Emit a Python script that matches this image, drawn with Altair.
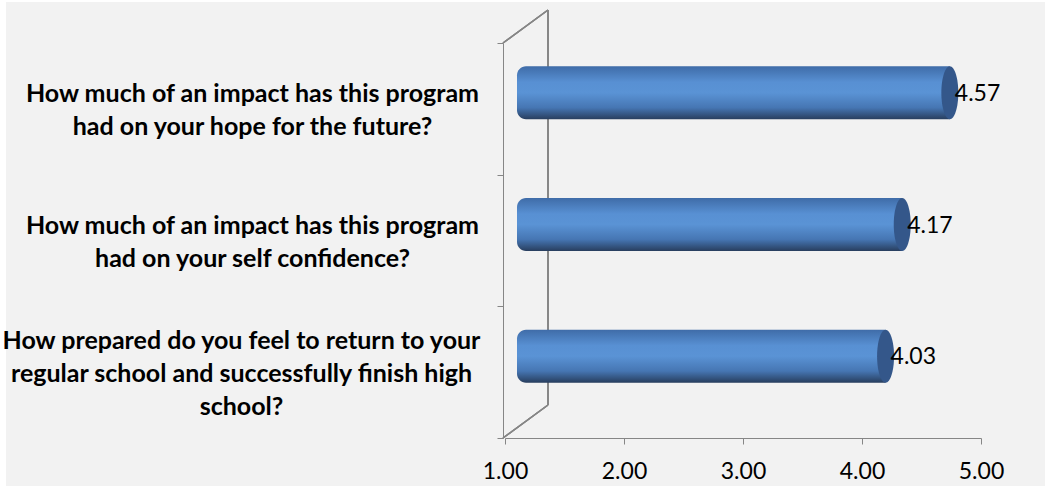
import altair as alt
import pandas as pd

questions = [
    "How much of an impact has this program|had on your hope for the future?",
    "How much of an impact has this program|had on your self confidence?",
    "How prepared do you feel to return to your|regular school and successfully finish high|school?",
]
scores = [4.57, 4.17, 4.03]
x_ticks = [1, 2, 3, 4, 5]

df = pd.DataFrame({"q": questions, "v": scores})

FONT = "Lato"
AXIS_GREY = "#868686"
LINE_H = 33
THREE_LINES = "datum.value && length(split(datum.value, '|')) > 2"

y_enc = alt.Y(
    "q:N",
    sort=None,
    scale=alt.Scale(paddingInner=0, paddingOuter=0),
    axis=alt.Axis(
        title=None,
        tickBand="extent",
        domainColor=AXIS_GREY,
        tickColor=AXIS_GREY,
        tickSize=6,
        offset=2,
        zindex=1,
        labelExpr="datum.value ? split(datum.value, '|') : ''",
        labelAlign="center",
        labelBaseline="middle",
        labelOffset={
            "condition": {"test": THREE_LINES, "value": -LINE_H + 1.5},
            "value": -LINE_H / 2 + 1.5,
        },
        labelPadding={
            "condition": {"test": THREE_LINES, "value": 256},
            "value": 245,
        },
        labelFont=FONT,
        labelFontWeight="bold",
        labelFontSize=25,
        labelLineHeight=LINE_H,
        labelColor="#000000",
        labelLimit=0,
    ),
)
x_enc = alt.X(
    "v:Q",
    scale=alt.Scale(domain=[1, 5], zero=False, nice=False),
    axis=alt.Axis(
        title=None,
        values=x_ticks,
        format=".2f",
        grid=False,
        zindex=1,
        domainColor=AXIS_GREY,
        tickColor=AXIS_GREY,
        tickSize=6,
        labelPadding=16,
        labelFont=FONT,
        labelFontSize=23,
        labelColor="#000000",
        labelFlush=False,
    ),
)

base = alt.Chart(df)

bg = base.mark_rect(color="#f2f2f2").encode(
    x=alt.value(-499), x2=alt.value(540), y=alt.value(-41), y2=alt.value(443)
)

wall = [
    base.mark_rule(color=AXIS_GREY, strokeWidth=1.5).encode(
        x=alt.value(43), x2=alt.value(43), y=alt.value(-33), y2=alt.value(362)
    ),
    base.mark_rule(color=AXIS_GREY, strokeWidth=1.5).encode(
        x=alt.value(-2), x2=alt.value(43), y=alt.value(0), y2=alt.value(-33)
    ),
    base.mark_rule(color=AXIS_GREY, strokeWidth=1.5).encode(
        x=alt.value(-2), x2=alt.value(43), y=alt.value(395), y2=alt.value(362)
    ),
]

grad = alt.LinearGradient(
    gradient="linear",
    stops=[
        alt.GradientStop(color="#3f6ca8", offset=0),
        alt.GradientStop(color="#5890d3", offset=0.3),
        alt.GradientStop(color="#5a93d5", offset=0.5),
        alt.GradientStop(color="#4676b3", offset=0.78),
        alt.GradientStop(color="#283e5e", offset=1),
    ],
    x1=0, x2=0, y1=0, y2=1,
)

bars = base.mark_bar(
    color=grad,
    height=53,
    xOffset=20,
    x2Offset=12,
    yOffset=-16,
    y2Offset=-16,
    cornerRadiusTopLeft=9,
    cornerRadiusBottomLeft=9,
).encode(y=y_enc, x=x_enc, x2=alt.datum(1))

cap = base.mark_point(
    shape="M0,-1A0.32,1,0,1,1,0,1A0.32,1,0,1,1,0,-1Z",
    size=2809,
    filled=True,
    color="#34578a",
    opacity=1,
    strokeWidth=0,
    xOffset=20,
    yOffset=-16,
).encode(y=y_enc, x=x_enc)

labels = base.mark_text(
    align="left",
    baseline="middle",
    font=FONT,
    fontSize=23,
    color="#000000",
    xOffset=25,
    yOffset=-15,
).encode(y=y_enc, x=x_enc, text=alt.Text("v:Q", format=".2f"))

chart = alt.layer(bg, *wall, bars, cap, labels).properties(
    width=476,
    height=395,
    background="#ffffff",
    padding={"left": 505, "top": 43, "right": 64, "bottom": 48},
    autosize=alt.AutoSizeParams(type="none"),
).configure_view(stroke=None)

chart.save("out.html", embed_options={"renderer": "svg", "actions": False})
